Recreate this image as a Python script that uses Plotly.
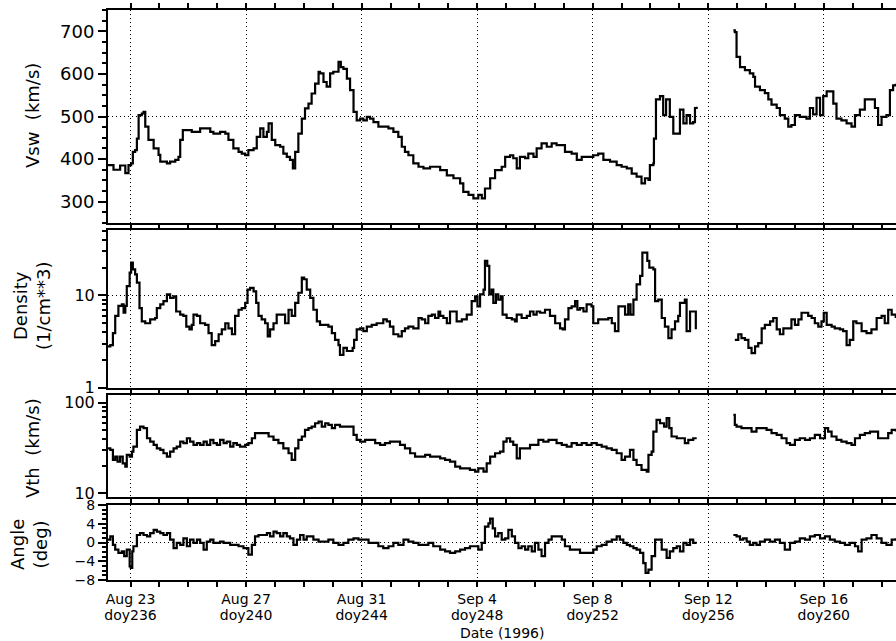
import plotly.graph_objects as go

# ---------------------------------------------------------------------------
# Solar-wind parameters, days of year 1996 (None marks the data gap)
# ---------------------------------------------------------------------------
vsw_day = [235.22, 235.41, 235.64, 235.82, 235.93, 236.02, 236.08, 236.16, 236.22, 236.28,
           236.39, 236.45, 236.51, 236.62, 236.80, 236.97, 237.03, 237.26, 237.37, 237.55,
           237.66, 237.72, 237.81, 237.95, 238.12, 238.30, 238.41, 238.64, 238.76, 238.87,
           239.10, 239.28, 239.39, 239.56, 239.74, 239.85, 239.97, 240.08, 240.26, 240.37,
           240.49, 240.60, 240.72, 240.78, 240.89, 241.01, 241.18, 241.29, 241.41, 241.52,
           241.62, 241.70, 241.81, 241.93, 242.04, 242.16, 242.27, 242.39, 242.51, 242.56,
           242.68, 242.79, 242.91, 243.02, 243.14, 243.20, 243.28, 243.37, 243.49, 243.60,
           243.72, 243.83, 243.95, 244.06, 244.18, 244.29, 244.41, 244.58, 244.75, 244.93,
           245.10, 245.27, 245.39, 245.50, 245.62, 245.79, 245.97, 246.14, 246.37, 246.54,
           246.72, 246.95, 247.18, 247.41, 247.52, 247.70, 247.87, 248.04, 248.16, 248.27,
           248.45, 248.62, 248.85, 248.97, 249.14, 249.25, 249.37, 249.48, 249.66, 249.77,
           249.95, 250.06, 250.23, 250.41, 250.58, 250.75, 250.93, 251.04, 251.27, 251.45,
           251.62, 251.85, 252.02, 252.19, 252.37, 252.60, 252.83, 253.00, 253.18, 253.35,
           253.52, 253.69, 253.81, 253.93, 253.98, 254.10, 254.12, 254.19, 254.33, 254.44,
           254.54, 254.67, 254.79, 254.91, 255.02, 255.14, 255.25, 255.37, 255.48, 255.54,
           255.60, None,
           256.87, 256.92, 256.98, 257.10, 257.27, 257.44, 257.56, 257.62, 257.79, 257.96,
           258.08, 258.19, 258.37, 258.48, 258.65, 258.77, 258.88, 259.00, 259.17, 259.40,
           259.52, 259.63, 259.75, 259.87, 259.98, 260.10, 260.21, 260.33, 260.44, 260.61,
           260.79, 260.96, 261.08, 261.25, 261.42, 261.65, 261.77, 261.88, 262.00, 262.17,
           262.29, 262.40, 262.49]
vsw_kms = [386, 375, 385, 367, 386, 390, 417, 421, 448, 503,
           507, 511, 476, 445, 425, 410, 394, 390, 394, 398,
           405, 445, 468, 468, 464, 464, 472, 472, 464, 460,
           464, 460, 445, 425, 417, 413, 409, 421, 425, 452,
           472, 452, 464, 484, 445, 433, 429, 413, 405, 398,
           378, 417, 460, 495, 519, 530, 554, 577, 605, 601,
           581, 570, 601, 605, 605, 628, 616, 612, 589, 562,
           511, 491, 495, 491, 499, 495, 487, 476, 476, 472,
           464, 452, 429, 417, 409, 390, 382, 378, 382, 382,
           374, 362, 355, 343, 323, 316, 308, 316, 308, 331,
           355, 374, 382, 405, 409, 402, 378, 405, 402, 413,
           405, 425, 437, 429, 437, 433, 433, 417, 413, 398,
           405, 405, 409, 413, 398, 394, 386, 382, 378, 366,
           359, 343, 355, 351, 386, 390, 448, 540, 548, 503,
           540, 499, 460, 460, 516, 484, 503, 484, 487, 520,
           523, None,
           702, 698, 640, 616, 609, 601, 593, 570, 562, 555,
           540, 528, 520, 503, 495, 476, 480, 503, 499, 495,
           520, 505, 544, 503, 548, 559, 559, 530, 495, 491,
           484, 476, 503, 516, 540, 540, 520, 480, 499, 503,
           562, 573, 577]

dens_day = [235.22, 235.30, 235.39, 235.47, 235.58, 235.70, 235.76, 235.82, 235.87, 235.97,
            236.02, 236.08, 236.16, 236.22, 236.31, 236.39, 236.51, 236.68, 236.85, 236.91,
            237.03, 237.14, 237.26, 237.37, 237.49, 237.58, 237.72, 237.83, 237.93, 238.04,
            238.12, 238.18, 238.30, 238.41, 238.58, 238.70, 238.81, 238.93, 239.05, 239.16,
            239.28, 239.39, 239.51, 239.62, 239.74, 239.85, 239.97, 240.05, 240.14, 240.26,
            240.35, 240.43, 240.54, 240.66, 240.75, 240.83, 240.95, 241.06, 241.24, 241.35,
            241.47, 241.58, 241.70, 241.81, 241.93, 242.01, 242.10, 242.22, 242.33, 242.45,
            242.56, 242.74, 242.85, 242.97, 243.08, 243.20, 243.25, 243.37, 243.49, 243.60,
            243.69, 243.74, 243.83, 243.95, 244.06, 244.18, 244.35, 244.52, 244.75, 244.87,
            244.98, 245.10, 245.27, 245.39, 245.50, 245.62, 245.79, 245.97, 246.08, 246.20,
            246.31, 246.43, 246.54, 246.66,
            246.72, 246.83, 246.95, 247.06, 247.18, 247.29, 247.47, 247.64, 247.81, 247.93,
            248.01, 248.10, 248.22, 248.27, 248.35, 248.42, 248.50, 248.56, 248.65, 248.73,
            248.82, 248.88, 249.02, 249.20, 249.31, 249.37, 249.54, 249.72, 249.83, 249.95,
            250.06, 250.18, 250.35, 250.52, 250.70, 250.87, 250.96, 251.04, 251.16, 251.27,
            251.39, 251.47, 251.56, 251.68, 251.79, 251.96, 252.02, 252.19, 252.37, 252.54,
            252.66, 252.77, 252.89, 253.04, 253.12, 253.23, 253.31, 253.41, 253.52, 253.64,
            253.72, 253.81, 253.89, 253.96, 254.10, 254.16, 254.27, 254.39, 254.50, 254.62,
            254.73, 254.85, 254.96, 255.02, 255.19, 255.25, 255.37, 255.48, 255.57, None,
            256.92, 257.04, 257.15, 257.27, 257.39, 257.50, 257.62, 257.73, 257.85, 257.96,
            258.14, 258.25, 258.37, 258.48, 258.60, 258.77, 258.88, 259.00, 259.12, 259.23,
            259.35, 259.46, 259.58, 259.69, 259.81, 259.92, 260.00, 260.10, 260.27, 260.38,
            260.56, 260.67, 260.79, 260.90, 261.02, 261.13, 261.31, 261.48, 261.65, 261.83,
            262.00, 262.11, 262.23, 262.35, 262.49]
dens_cc = [2.8, 2.9, 3.9, 6.0, 7.7, 8.0, 6.5, 7.7, 12.6, 17.7,
           22.7, 19.2, 16.9, 13.8, 7.3, 5.25, 5.0, 5.5, 5.7, 7.3,
           8.0, 8.7, 10.3, 9.4, 9.8, 6.7, 6.2, 6.0, 4.6, 4.3,
           4.8, 6.2, 6.0, 5.0, 4.8, 3.9, 2.9, 3.2, 3.8, 4.3,
           5.0, 4.4, 3.8, 6.0, 7.0, 7.3, 8.3, 11.6, 12.1, 11.1,
           8.3, 6.0, 5.5, 5.0, 3.6, 4.3, 5.0, 6.2, 6.2, 5.0,
           7.0, 6.0, 8.3, 10.7, 15.6, 15.0, 11.6, 9.4, 7.0, 5.25,
           4.8, 4.8, 4.6, 3.9, 3.3, 2.9, 2.27, 2.7, 2.5, 2.5,
           2.7, 3.3, 4.3, 4.4, 4.1, 4.6, 4.8, 5.0, 5.5, 5.25,
           4.6, 3.8, 3.6, 4.1, 4.4, 4.6, 4.4, 5.7, 5.5, 5.0,
           6.0, 6.2, 5.7, 6.7,
           6.0, 5.7, 5.0, 6.7, 6.7, 5.25, 5.5, 6.2, 8.7, 9.8,
           7.6, 10.3, 11.6, 23.7, 20.9, 10.3, 11.6, 8.3, 10.3, 9.0,
           9.8, 6.2, 5.7, 5.5, 5.25, 6.2, 5.7, 6.0, 6.7, 6.2,
           6.7, 6.5, 7.0, 6.0, 5.0, 4.4, 4.3, 5.5, 7.3, 7.6,
           8.7, 7.0, 7.3, 6.7, 8.0, 7.6, 5.0, 5.5, 5.5, 5.7,
           5.0, 4.1, 7.6, 7.6, 6.2, 8.0, 6.2, 9.0, 13.2, 16.3,
           29.2, 29.2, 23.7, 20.0, 19.2, 8.7, 9.0, 5.7, 4.6, 3.45,
           4.3, 5.25, 6.0, 8.3, 9.0, 4.1, 6.7, 6.7, 4.3, None,
           3.3, 3.8, 3.45, 3.3, 2.7, 2.37, 2.8, 3.05, 4.4, 4.8,
           5.25, 5.7, 4.3, 3.8, 4.4, 4.4, 5.5, 4.8, 5.5, 6.5,
           6.5, 6.0, 5.7, 5.0, 4.6, 5.25, 6.5, 4.8, 4.6, 4.4,
           4.3, 4.1, 2.9, 3.3, 5.25, 5.0, 4.1, 3.9, 4.3, 5.7,
           6.0, 5.0, 7.0, 6.2, 5.7]

vth_day = [235.22, 235.30, 235.39, 235.47, 235.55, 235.64, 235.73, 235.82, 235.87, 235.97,
           236.05, 236.10, 236.22, 236.33, 236.45, 236.57, 236.68, 236.80, 236.91, 237.03,
           237.14, 237.26, 237.37, 237.49, 237.60, 237.72, 237.83, 237.95, 238.06, 238.18,
           238.30, 238.41, 238.53, 238.64, 238.76, 238.87, 238.99, 239.10, 239.22, 239.33,
           239.45, 239.56, 239.68, 239.79, 239.97, 240.08, 240.20, 240.31, 240.49, 240.66,
           240.78, 240.95, 241.12, 241.29, 241.47, 241.58, 241.70, 241.81, 241.93, 242.04,
           242.16, 242.27, 242.39, 242.51, 242.62, 242.74, 242.85, 242.97, 243.08, 243.25,
           243.43, 243.60, 243.72, 243.83, 243.95, 244.12, 244.29, 244.47, 244.64, 244.81,
           244.98, 245.16, 245.33, 245.50, 245.68, 245.85, 246.02, 246.20, 246.37, 246.54,
           246.72, 246.89, 247.06, 247.24, 247.41, 247.58, 247.75, 247.93, 248.04, 248.22,
           248.33, 248.45, 248.62, 248.79, 248.91, 249.02, 249.14, 249.25, 249.37, 249.48,
           249.66, 249.83, 250.00, 250.12, 250.29, 250.47, 250.58, 250.75, 250.93, 251.10,
           251.27, 251.45, 251.62, 251.79, 251.96, 252.14, 252.31, 252.48, 252.66, 252.83,
           253.00, 253.12, 253.29, 253.41, 253.52, 253.69, 253.87, 253.93, 254.04, 254.10,
           254.21, 254.33, 254.47, 254.56, 254.65, 254.73, 254.91, 255.08, 255.19, 255.31,
           255.48, 255.60, None,
           256.87, 256.92, 256.98, 257.15, 257.33, 257.50, 257.67, 257.85, 258.02, 258.19,
           258.37, 258.54, 258.71, 258.83, 259.00, 259.17, 259.35, 259.52, 259.69, 259.87,
           260.04, 260.15, 260.27, 260.44, 260.61, 260.79, 260.96, 261.08, 261.25, 261.42,
           261.60, 261.77, 261.88, 262.06, 262.23, 262.35, 262.49]
vth_kms = [31.2, 29.9, 23.2, 25.2, 22.2, 25.2, 21.3, 19.6, 26.4, 25.2,
           28.7, 32.6, 49.8, 54.2, 52.0, 40.3, 37.0, 34.0, 31.2, 29.9,
           27.5, 25.2, 28.7, 31.2, 32.6, 37.0, 35.5, 40.3, 37.0, 34.0,
           35.5, 34.0, 37.0, 34.0, 38.6, 35.5, 34.0, 38.6, 35.5, 37.0,
           32.6, 35.5, 34.0, 32.6, 34.0, 35.5, 40.3, 45.8, 45.8, 45.8,
           42.1, 38.6, 35.5, 31.2, 27.5, 23.2, 31.2, 38.6, 42.1, 49.8,
           52.0, 54.2, 59.0, 61.6, 54.2, 59.0, 56.6, 52.0, 56.6, 54.2,
           54.2, 54.2, 43.9, 38.6, 37.0, 38.6, 38.6, 35.5, 34.0, 35.5,
           37.0, 37.0, 34.0, 31.2, 27.5, 25.2, 25.2, 26.4, 25.2, 25.2,
           24.2, 23.2, 22.2, 19.6, 18.7, 18.7, 18.0, 17.2, 18.7, 17.2,
           21.3, 25.2, 27.5, 28.7, 37.0, 40.3, 37.0, 34.0, 24.2, 31.2,
           31.2, 34.0, 34.0, 38.6, 37.0, 38.6, 38.6, 35.5, 34.0, 32.6,
           35.5, 34.0, 35.5, 34.0, 35.5, 34.0, 32.6, 31.2, 29.9, 27.5,
           23.2, 25.2, 29.9, 23.2, 20.4, 18.0, 17.2, 26.4, 28.7, 47.8,
           64.3, 59.0, 54.2, 67.1, 52.0, 42.1, 40.3, 40.3, 35.5, 38.6,
           40.3, 40.3, None,
           72.9, 56.6, 54.2, 52.0, 52.0, 47.8, 52.0, 52.0, 49.8, 45.8,
           43.9, 40.3, 35.5, 34.0, 38.6, 40.3, 38.6, 40.3, 43.9, 40.3,
           52.0, 47.8, 42.1, 38.6, 37.0, 35.5, 34.0, 40.3, 43.9, 45.8,
           47.8, 47.8, 40.3, 40.3, 45.8, 49.8, 47.8]

angle_day = [235.22, 235.30, 235.39, 235.47, 235.58, 235.70, 235.78, 235.87, 235.97, 236.01,
             236.06, 236.10, 236.22, 236.33, 236.45, 236.57, 236.68, 236.80, 236.91, 237.03,
             237.14, 237.26, 237.37, 237.49, 237.60, 237.72, 237.83, 237.95, 238.06, 238.18,
             238.30, 238.41, 238.53, 238.64, 238.76, 238.87, 238.99, 239.10, 239.22, 239.33,
             239.45, 239.56, 239.74, 239.91, 240.08, 240.20, 240.31, 240.43, 240.60, 240.72,
             240.83, 240.95, 241.06, 241.18, 241.29, 241.41, 241.52, 241.64, 241.76, 241.87,
             241.99, 242.10, 242.22, 242.33, 242.51, 242.68, 242.85, 243.02, 243.20, 243.37,
             243.54, 243.72, 243.89, 244.06, 244.24, 244.41, 244.58, 244.75, 244.93, 245.10,
             245.27, 245.45, 245.62, 245.79, 245.97, 246.14, 246.31, 246.48,
             246.72, 246.89, 247.06, 247.24, 247.41, 247.58, 247.75, 247.93, 248.04, 248.16,
             248.27, 248.39, 248.45, 248.54, 248.62, 248.73, 248.85, 248.97, 249.08, 249.20,
             249.31, 249.43, 249.54, 249.66, 249.77, 249.89, 250.00, 250.12, 250.23, 250.35,
             250.47, 250.58, 250.75, 250.93, 251.04, 251.21, 251.39, 251.56, 251.73, 251.91,
             252.02, 252.14, 252.31, 252.48, 252.66, 252.83, 252.94, 253.06, 253.18, 253.29,
             253.41, 253.52, 253.64, 253.75, 253.83, 253.93, 254.04, 254.16, 254.27, 254.39,
             254.56, 254.67, 254.79, 254.91, 255.02, 255.14, 255.25, 255.37, 255.48, 255.60,
             None,
             256.87, 256.98, 257.10, 257.21, 257.33, 257.44, 257.56, 257.67, 257.79, 257.96,
             258.14, 258.31, 258.48, 258.65, 258.83, 259.00, 259.17, 259.35, 259.52, 259.69,
             259.87, 260.04, 260.21, 260.38, 260.56, 260.73, 260.90, 261.08, 261.19, 261.31,
             261.48, 261.65, 261.83, 262.00, 262.17, 262.35, 262.49]
angle_deg = [0.6, 1.3, -0.5, -1.5, -2.2, -1.9, -2.9, -1.5, -5.1, -5.4,
             -1.9, -0.8, 1.6, 2.0, 1.6, 1.3, 2.0, 2.7, 2.3, 2.0,
             1.6, 2.0, 0.6, -1.2, -0.1, -0.5, 0.9, -0.8, 0.6, -0.1,
             0.6, -0.1, -1.5, 0.2, 0.6, -0.1, -0.1, 0.2, -0.1, -0.1,
             -0.5, -0.5, -0.8, -1.2, -2.6, -0.5, 1.3, 1.6, 1.6, 2.0,
             1.3, 2.3, 2.0, 1.3, 2.0, 1.3, 0.9, -0.5, 0.6, 1.6,
             0.6, 1.3, 1.3, 0.6, 0.2, 0.2, 0.6, -0.1, -0.5, -0.1,
             0.6, 0.9, 0.6, 0.6, -0.1, -0.1, -0.8, -1.2, -0.8, -0.1,
             -0.5, 0.6, 0.2, -0.1, -0.5, -0.5, -0.1, -0.8,
             -1.5, -1.9, -2.2, -1.9, -1.5, -1.2, -0.8, -0.8, -1.5, -0.1,
             3.4, 4.1, 5.1, 3.0, 1.3, 2.0, 0.6, 0.9, 2.7, 1.3,
             -0.1, -1.2, -0.8, -1.5, -0.8, -1.9, -0.1, -1.5, -2.9, -0.1,
             0.6, 1.3, 1.3, 0.6, -0.8, -1.5, -1.5, -2.2, -2.2, -2.2,
             -1.5, -0.8, -0.5, 0.2, 0.6, 1.3, 0.6, -0.1, -0.5, -0.8,
             -1.2, -1.5, -2.2, -4.4, -6.5, -5.8, -2.9, 0.6, 0.6, -1.5,
             -3.3, -1.9, -1.2, -0.8, -1.9, -0.1, -0.5, 0.6, -0.1, -0.1,
             None,
             1.6, 1.3, 0.6, 0.9, 0.2, -0.5, -0.1, -0.5, 0.2, 0.6,
             0.2, 0.6, -0.1, -1.5, -0.1, 0.2, 0.9, 0.6, 1.3, 1.6,
             0.9, 1.3, 0.6, 0.2, -0.1, -0.5, -0.1, -0.8, -1.9, 0.6,
             0.9, 1.6, 0.9, -0.1, -0.5, 0.6, 0.9]

# Date axis labels: calendar date on one row, day of year on the row below
label_doy = [236, 240, 244, 248, 252, 256, 260]
label_date = ["Aug 23", "Aug 27", "Aug 31", "Sep 4", "Sep 8", "Sep 12", "Sep 16"]
label_doy_text = [f"doy{n}" for n in label_doy]
day_range = [235.22, 262.5]

FONT = "DejaVu Sans"
DOT = "1px,3px"
W, H = 896, 641
ML, MR, MT, MB = 108, 0, 10, 61
plot_w = W - ML - MR
plot_h = H - MT - MB


def dom(top_px, bot_px):
    """Vertical domain of a panel from its top and bottom pixel rows."""
    return [(H - MB - bot_px) / plot_h, (H - MB - top_px) / plot_h]


fig = go.Figure()
series = [(vsw_day, vsw_kms), (dens_day, dens_cc), (vth_day, vth_kms), (angle_day, angle_deg)]
for i, (xd, yd) in enumerate(series, start=1):
    sfx = "" if i == 1 else str(i)
    fig.add_trace(go.Scatter(
        x=xd, y=yd, mode="lines", connectgaps=False,
        line=dict(color="black", width=2.2, shape="hv"),
        xaxis="x" + sfx, yaxis="y" + sfx,
        showlegend=False, hoverinfo="skip",
    ))

# empty carrier trace so the day-of-year label axis is rendered
fig.add_trace(go.Scatter(x=label_doy, y=[None] * len(label_doy), mode="lines",
                         xaxis="x5", yaxis="y4", showlegend=False, hoverinfo="skip"))

TICKFONT_X = dict(family=FONT, size=14, color="black")


def x_axis(anchor, labels):
    return dict(
        anchor=anchor, domain=[0, 1], range=day_range, automargin=False,
        showline=True, linewidth=2, linecolor="black", mirror="allticks",
        ticks="outside", ticklen=5, tickwidth=1.5, tickcolor="black",
        tickmode="array", tickvals=label_doy, ticktext=label_date,
        showticklabels=labels, ticklabelstandoff=0,
        tickfont=TICKFONT_X,
        showgrid=True, gridcolor="black", gridwidth=1, griddash=DOT,
        zeroline=False,
        minor=dict(tickmode="array", tickvals=list(range(235, 263)),
                   ticks="outside", ticklen=5, tickwidth=1.5, tickcolor="black",
                   showgrid=False),
    )


def y_axis(anchor, domain, size=18, **kw):
    base = dict(
        anchor=anchor, domain=domain, automargin=False,
        showline=True, linewidth=2, linecolor="black", mirror=False,
        ticks="outside", ticklen=8, tickwidth=1.5, tickcolor="black",
        tickfont=dict(family=FONT, size=size, color="black"),
        showgrid=False, zeroline=False,
    )
    base.update(kw)
    return base


fig.update_layout(
    width=W, height=H, autosize=False,
    margin=dict(l=ML, r=MR, t=MT, b=MB, pad=0),
    paper_bgcolor="white", plot_bgcolor="white",
    font=dict(family=FONT, color="black"),
    xaxis=x_axis("y", False),
    xaxis2=x_axis("y2", False),
    xaxis3=x_axis("y3", False),
    xaxis4=x_axis("y4", True),
    # second row of date labels (day of year) under the bottom panel
    xaxis5=dict(
        anchor="y4", overlaying="x4", side="bottom", range=day_range,
        automargin=False, showline=False, showgrid=False, zeroline=False,
        ticks="outside", ticklen=5, tickcolor="rgba(0,0,0,0)",
        tickmode="array", tickvals=label_doy, ticktext=label_doy_text,
        ticklabelstandoff=17, tickfont=TICKFONT_X,
    ),
    yaxis=y_axis("x", dom(10, 223), range=[250, 750], tickmode="array",
                 tickvals=[300, 400, 500, 600, 700],
                 minor=dict(tickmode="linear", tick0=250, dtick=25, ticks="outside",
                            ticklen=4, tickwidth=1.5, tickcolor="black")),
    yaxis2=y_axis("x2", dom(230, 387.7), size=16, type="log", range=[0, 1.71],
                  tickmode="array", tickvals=[1, 10], ticktext=["1", "10"],
                  showgrid=True, gridcolor="black", gridwidth=1, griddash=DOT,
                  minor=dict(tickmode="array",
                             tickvals=[2, 3, 4, 5, 6, 7, 8, 9, 20, 30, 40, 50],
                             ticks="outside", ticklen=4, tickwidth=1.5, tickcolor="black")),
    yaxis3=y_axis("x3", dom(395, 497), size=16, type="log", range=[0.956, 2.083],
                  tickmode="array", tickvals=[10, 100], ticktext=["10", "100"],
                  minor=dict(tickmode="array",
                             tickvals=[20, 30, 40, 50, 60, 70, 80, 90],
                             ticks="outside", ticklen=4, tickwidth=1.5, tickcolor="black")),
    yaxis4=y_axis("x4", dom(505, 580), size=14, range=[-8, 8], tickmode="array",
                  tickvals=[-8, -4, 0, 4, 8],
                  minor=dict(tickmode="array", tickvals=list(range(-8, 9)),
                             ticks="outside", ticklen=4, tickwidth=1.5, tickcolor="black")),
)

# Dotted reference levels: 500 km/s and 0 deg
for yref, level in (("y", 500), ("y4", 0)):
    fig.add_shape(type="line", xref="x", yref=yref,
                  x0=day_range[0], x1=day_range[1], y0=level, y1=level,
                  line=dict(color="black", width=1, dash=DOT), layer="below")


def px_x(px):
    return (px - ML) / plot_w


def px_y(py):
    return (H - MB - py) / plot_h


title_font = dict(family=FONT, size=18, color="black")
for text, cx, cy in (("Vsw  (km/s)", 32, 116),
                     ("Density<br>(1/cm**3)", 32, 306),
                     ("Vth  (km/s)", 33, 448),
                     ("Angle<br>(deg)", 29, 545)):
    fig.add_annotation(text=text, xref="paper", yref="paper",
                       x=px_x(cx), y=px_y(cy), xanchor="center", yanchor="middle",
                       textangle=-90, showarrow=False, font=title_font)

fig.add_annotation(text="Date (1996)", xref="paper", yref="paper",
                   x=px_x(502), y=px_y(633), xanchor="center", yanchor="middle",
                   showarrow=False, font=dict(family=FONT, size=14, color="black"))

fig.write_html("out.html")
